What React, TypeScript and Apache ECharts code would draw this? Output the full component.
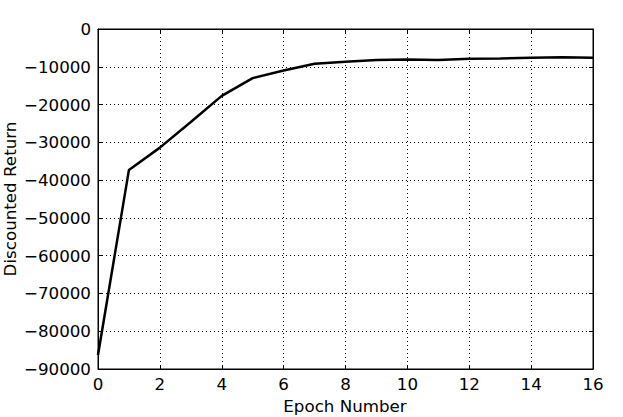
import React, { useEffect, useRef } from "react";
import * as echarts from "echarts";

const epochs = [0, 1, 2, 3, 4, 5, 6, 7, 8, 9, 10, 11, 12, 13, 14, 15, 16];
const discountedReturn = [
  -86300, -37300, -31400, -24600, -17700, -13000, -11000, -9200, -8700,
  -8200, -8100, -8200, -7900, -7800, -7600, -7500, -7600,
];
const xTitle = "Epoch Number";
const yTitle = "Discounted Return";

const FONT = "DejaVu Sans";
const FS = 16.7;

export default function App() {
  const ref = useRef<HTMLDivElement>(null);
  useEffect(() => {
    document.body.style.margin = "0";
    if (!ref.current) return;
    const chart = echarts.init(ref.current, undefined, { renderer: "svg" });
    const tickCommon = {
      show: true,
      inside: true,
      length: 4,
      lineStyle: { color: "#000", width: 1 },
    };
    const split = {
      show: true,
      lineStyle: { color: "#000", width: 1, type: [1, 3] as any },
    };
    chart.setOption({
      animation: false,
      backgroundColor: "#fff",
      textStyle: { fontFamily: FONT },
      grid: {
        left: 98,
        right: 30,
        top: 29,
        bottom: 48,
        show: true,
        borderColor: "#000",
        borderWidth: 1,
        backgroundColor: "transparent",
      },
      xAxis: [
        {
          type: "value",
          min: 0,
          max: 16,
          interval: 2,
          position: "bottom",
          axisLine: { show: true, onZero: false, lineStyle: { color: "#000", width: 1 } },
          axisTick: tickCommon,
          splitLine: split,
          axisLabel: { color: "#000", fontSize: FS, fontFamily: FONT, margin: 6 },
        },
        {
          type: "value",
          min: 0,
          max: 16,
          interval: 2,
          position: "top",
          axisLine: { show: true, onZero: false, lineStyle: { color: "#000", width: 1 } },
          axisTick: tickCommon,
          splitLine: { show: false },
          axisLabel: { show: false },
        },
      ],
      yAxis: [
        {
          type: "value",
          min: -90000,
          max: 0,
          interval: 10000,
          position: "left",
          axisLine: { show: true, onZero: false, lineStyle: { color: "#000", width: 1 } },
          axisTick: tickCommon,
          splitLine: split,
          axisLabel: {
            color: "#000",
            fontSize: FS,
            fontFamily: FONT,
            margin: 7,
            formatter: (v: number) => (v < 0 ? "\u2212" + Math.abs(v) : String(v)),
          },
        },
        {
          type: "value",
          min: -90000,
          max: 0,
          interval: 10000,
          position: "right",
          axisLine: { show: true, onZero: false, lineStyle: { color: "#000", width: 1 } },
          axisTick: tickCommon,
          splitLine: { show: false },
          axisLabel: { show: false },
        },
      ],
      series: [
        {
          type: "line",
          xAxisIndex: 0,
          yAxisIndex: 0,
          data: epochs.map((e, i) => [e, discountedReturn[i]]),
          showSymbol: false,
          symbol: "none",
          lineStyle: { color: "#000", width: 2.5 },
          z: 5,
        },
      ],
      graphic: [
        {
          type: "text",
          x: 345,
          y: 406,
          style: {
            text: xTitle,
            fontSize: FS,
            fontFamily: FONT,
            fill: "#000",
            align: "center",
            verticalAlign: "middle",
          },
        },
        {
          type: "text",
          x: 10,
          y: 199,
          rotation: Math.PI / 2,
          style: {
            text: yTitle,
            fontSize: FS,
            fontFamily: FONT,
            fill: "#000",
            align: "center",
            verticalAlign: "middle",
          },
        },
      ],
    });
    return () => chart.dispose();
  }, []);
  return <div ref={ref} style={{ width: 623, height: 417 }} />;
}
